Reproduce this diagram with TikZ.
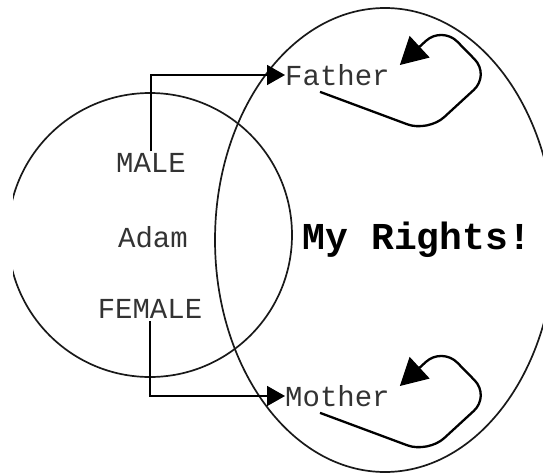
\documentclass[tikz,border=0pt]{standalone}
\usepackage{fontspec}
\newfontfamily\cour{Liberation Mono}
\usetikzlibrary{arrows.meta,calc}
\begin{document}
\begin{tikzpicture}[x=1pt,y=-1pt,
  shape line/.style={line width=1.7pt,draw=black!90},
  lbl/.style={font=\cour\fontsize{29}{30}\selectfont,inner sep=2pt,text=black!80},
  conn/.style={line width=1.7pt,-{Triangle[length=18pt,width=20pt]}},
  selfloop/.style={line width=2.3pt,rounded corners=22pt,-{Triangle[length=27pt,width=29pt]}}]
\useasboundingbox (0,0) rectangle (543,474);
\begin{scope}
  \clip (13,0) rectangle (543,474);
  \draw[shape line] (150,235) circle[radius=142];
  \draw[shape line] (385,240) ellipse[x radius=170,y radius=232];
\end{scope}
\node[lbl] (male) at (151,163) {MALE};
\node[lbl] (adam) at (153,237) {Adam};
\node[lbl] (female) at (150,309) {FEMALE};
\node[lbl,anchor=west,inner sep=0pt] (father) at (285,75) {Father};
\node[lbl,anchor=west,inner sep=0pt] (mother) at (285,396) {Mother};
\node[font=\cour\bfseries\fontsize{38}{40}\selectfont,inner sep=0pt] (rights) at (417,240) {My Rights!};
\draw[conn] (male.north) |- (father.west);
\draw[conn] (female.south) |- (mother.west);
\coordinate (fs) at ($(father.south west)+(35,6)$);
\coordinate (ft) at ($(father.east)+(10,-10)$);
\draw[selfloop] (fs) -- (428,132) -- (490,75) -- (442,26) -- (ft);
\coordinate (ms) at ($(mother.south west)+(35,6)$);
\coordinate (mt) at ($(mother.east)+(10,-10)$);
\draw[selfloop] (ms) -- (428,453) -- (490,396) -- (442,347) -- (mt);
\end{tikzpicture}
\end{document}
